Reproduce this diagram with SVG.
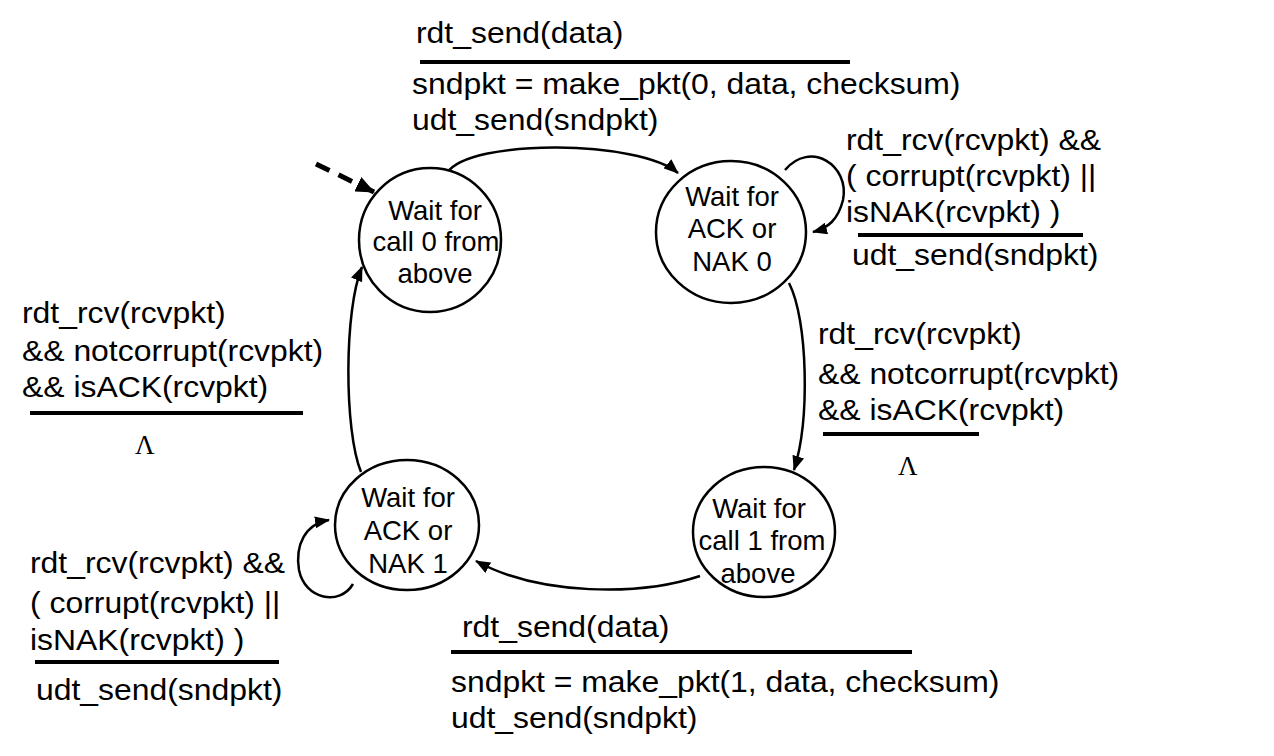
<svg xmlns="http://www.w3.org/2000/svg" width="1274" height="756" viewBox="0 0 1274 756">
<style>
.st{fill:#fff;stroke:#000;stroke-width:2.5}
.nt{font-family:"Liberation Sans",Arial,sans-serif;font-size:27.5px;fill:#000;text-anchor:middle}
.lb{font-family:"Liberation Sans",Arial,sans-serif;font-size:29px;fill:#000}
.lam{font-family:"Liberation Serif","Times New Roman",serif;font-size:27px;fill:#000}
.ed{fill:none;stroke:#000;stroke-width:2.5}
.dash{fill:none;stroke:#000;stroke-width:5;stroke-dasharray:15 10}
.bar{stroke:#000;stroke-width:4}
</style>
<defs>
<marker id="ah" markerWidth="16" markerHeight="12" refX="14" refY="6" orient="auto" markerUnits="userSpaceOnUse">
<path d="M0,0 L15,6 L0,12 Z" fill="#000"/>
</marker>
<marker id="ahb" markerWidth="20" markerHeight="16" refX="18" refY="8" orient="auto" markerUnits="userSpaceOnUse">
<path d="M0,0 L19,8 L0,16 Z" fill="#000"/>
</marker>
</defs>
<rect width="1274" height="756" fill="#fff"/>

<g id="connectors">
<path class="dash" d="M316,164 L374,192" marker-end="url(#ahb)"/>
<path class="ed" d="M447,173 C470,138 640,140 678,173" marker-end="url(#ah)"/>
<path class="ed" d="M785,170 C810,140 850,165 843,200 C838,220 828,228 813,232" marker-end="url(#ah)"/>
<path class="ed" d="M789,283 C808,320 810,420 794,470" marker-end="url(#ah)"/>
<path class="ed" d="M700,576 C640,596 540,596 476,561" marker-end="url(#ah)"/>
<path class="ed" d="M353,584 C340,606 305,600 299,570 C295,545 305,524 329,520" marker-end="url(#ah)"/>
<path class="ed" d="M361,472 C344,430 344,310 362,267" marker-end="url(#ah)"/>
</g>

<g id="wait-call0">
<ellipse class="st" cx="430" cy="240" rx="71" ry="72"/>
<text class="nt" x="435" y="220">Wait for</text>
<text class="nt" x="436" y="251">call 0 from</text>
<text class="nt" x="435" y="283">above</text>
</g>
<g id="wait-ack0">
<ellipse class="st" cx="731" cy="232" rx="75" ry="71"/>
<text class="nt" x="732" y="206">Wait for</text>
<text class="nt" x="732" y="238">ACK or</text>
<text class="nt" x="732" y="271">NAK 0</text>
</g>
<g id="wait-call1">
<ellipse class="st" cx="764" cy="532" rx="71" ry="65"/>
<text class="nt" x="759" y="518">Wait for</text>
<text class="nt" x="762" y="550">call 1 from</text>
<text class="nt" x="758" y="583">above</text>
</g>
<g id="wait-ack1">
<ellipse class="st" cx="407" cy="525" rx="72" ry="65"/>
<text class="nt" x="408" y="507">Wait for</text>
<text class="nt" x="408" y="540">ACK or</text>
<text class="nt" x="408" y="573">NAK 1</text>
</g>

<g id="label-top">
<text class="lb" transform="translate(416,43) scale(1.1,1)">rdt_send(data)</text>
<line class="bar" x1="420" y1="62" x2="850" y2="62"/>
<text class="lb" transform="translate(412,94) scale(1.1,1)">sndpkt = make_pkt(0, data, checksum)</text>
<text class="lb" transform="translate(412,130) scale(1.1,1)">udt_send(sndpkt)</text>
</g>
<g id="label-ack0-loop">
<text class="lb" transform="translate(846,150) scale(1.1,1)">rdt_rcv(rcvpkt) &amp;&amp;</text>
<text class="lb" transform="translate(846,186) scale(1.1,1)">( corrupt(rcvpkt) ||</text>
<text class="lb" transform="translate(846,222) scale(1.1,1)">isNAK(rcvpkt) )</text>
<line class="bar" x1="858" y1="235" x2="1083" y2="235"/>
<text class="lb" transform="translate(852,265) scale(1.1,1)">udt_send(sndpkt)</text>
</g>
<g id="label-right">
<text class="lb" transform="translate(818,344) scale(1.1,1)">rdt_rcv(rcvpkt)</text>
<text class="lb" transform="translate(818,384) scale(1.1,1)">&amp;&amp; notcorrupt(rcvpkt)</text>
<text class="lb" transform="translate(818,420) scale(1.1,1)">&amp;&amp; isACK(rcvpkt)</text>
<line class="bar" x1="823" y1="434" x2="979" y2="434"/>
<text class="lam" x="898" y="475">Λ</text>
</g>
<g id="label-left">
<text class="lb" transform="translate(22,323) scale(1.1,1)">rdt_rcv(rcvpkt)</text>
<text class="lb" transform="translate(22,361) scale(1.1,1)">&amp;&amp; notcorrupt(rcvpkt)</text>
<text class="lb" transform="translate(22,397) scale(1.1,1)">&amp;&amp; isACK(rcvpkt)</text>
<line class="bar" x1="30" y1="413" x2="303" y2="413"/>
<text class="lam" x="135" y="454">Λ</text>
</g>
<g id="label-ack1-loop">
<text class="lb" transform="translate(30,573) scale(1.1,1)">rdt_rcv(rcvpkt) &amp;&amp;</text>
<text class="lb" transform="translate(30,613) scale(1.1,1)">( corrupt(rcvpkt) ||</text>
<text class="lb" transform="translate(30,650) scale(1.1,1)">isNAK(rcvpkt) )</text>
<line class="bar" x1="35" y1="662" x2="279" y2="662"/>
<text class="lb" transform="translate(36,700) scale(1.1,1)">udt_send(sndpkt)</text>
</g>
<g id="label-bottom">
<text class="lb" transform="translate(462,637) scale(1.1,1)">rdt_send(data)</text>
<line class="bar" x1="451" y1="652" x2="912" y2="652"/>
<text class="lb" transform="translate(451,692) scale(1.1,1)">sndpkt = make_pkt(1, data, checksum)</text>
<text class="lb" transform="translate(451,728) scale(1.1,1)">udt_send(sndpkt)</text>
</g>
</svg>
